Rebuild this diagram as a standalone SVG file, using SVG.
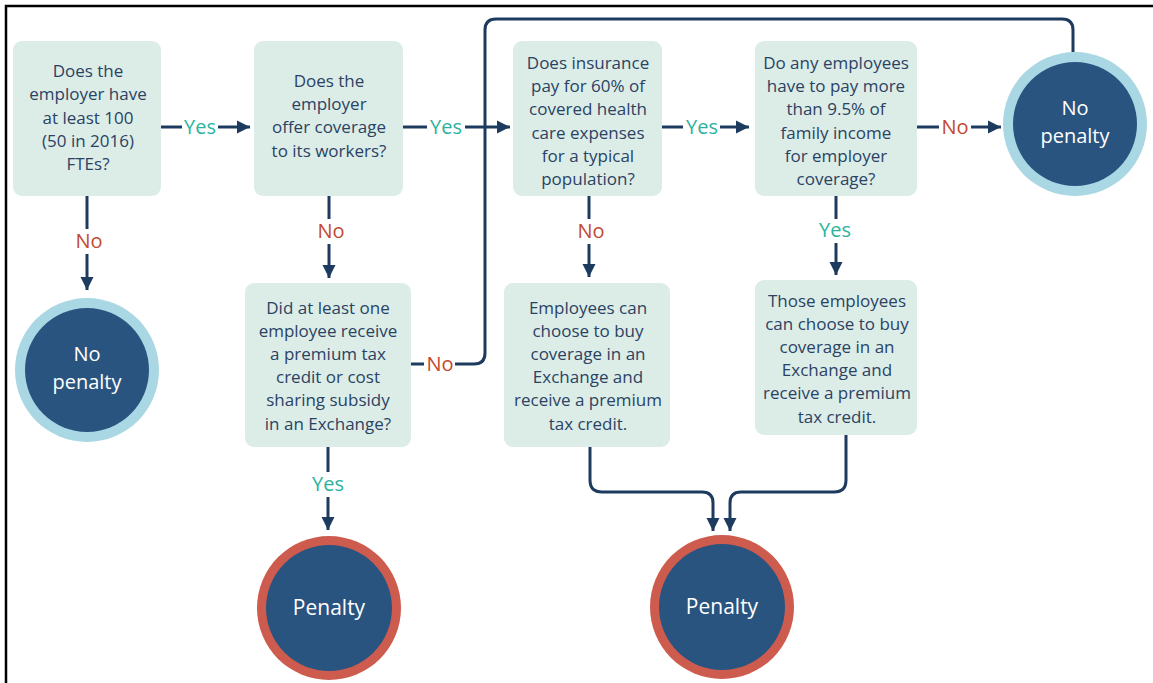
<svg xmlns="http://www.w3.org/2000/svg" width="1153" height="683" viewBox="0 0 1153 683">
<defs>
<style>
.box{fill:#dcede8;}
.bt{font-family:"Open Sans","Liberation Sans",sans-serif;font-size:17px;fill:#2b4263;text-anchor:middle;}
.ln{stroke:#1d3a5f;stroke-width:3;fill:none;}
.yes{font-family:"Open Sans","Liberation Sans",sans-serif;font-size:20px;fill:#2ab3a0;text-anchor:middle;}
.no{font-family:"Open Sans","Liberation Sans",sans-serif;font-size:20px;fill:#c2492f;text-anchor:middle;}
.ct{font-family:"Open Sans","Liberation Sans",sans-serif;font-size:21px;fill:#ffffff;text-anchor:middle;}
.ct2{font-family:"Open Sans","Liberation Sans",sans-serif;font-size:20px;fill:#ffffff;text-anchor:middle;}
.inner{fill:#2a5480;}
.ringnp{fill:#a9d7e3;}
.ringp{fill:#cd5c4e;}
</style>
<marker id="ah" viewBox="0 0 10 10" refX="10" refY="5" markerWidth="4.5" markerHeight="4.6" orient="auto" markerUnits="strokeWidth">
<path d="M0,0 L10,5 L0,10 z" fill="#1d3a5f"/>
</marker>
</defs>
<rect x="0" y="0" width="1153" height="683" fill="#ffffff"/>
<path d="M6,683 L6,6 L1153,6" stroke="#000" stroke-width="2.5" fill="none"/>

<g id="connectors">
<line class="ln" x1="161" y1="127" x2="182" y2="127"/>
<line class="ln" x1="218" y1="127" x2="250" y2="127" marker-end="url(#ah)"/>
<line class="ln" x1="403" y1="127" x2="427" y2="127"/>
<line class="ln" x1="465" y1="127" x2="510" y2="127" marker-end="url(#ah)"/>
<line class="ln" x1="662" y1="127" x2="683" y2="127"/>
<line class="ln" x1="720" y1="127" x2="749" y2="127" marker-end="url(#ah)"/>
<line class="ln" x1="917" y1="127" x2="939" y2="127"/>
<line class="ln" x1="971" y1="127" x2="1001" y2="127" marker-end="url(#ah)"/>
<line class="ln" x1="87" y1="196" x2="87" y2="229"/>
<line class="ln" x1="87" y1="254" x2="87" y2="290" marker-end="url(#ah)"/>
<line class="ln" x1="329" y1="196" x2="329" y2="219"/>
<line class="ln" x1="329" y1="244" x2="329" y2="278" marker-end="url(#ah)"/>
<line class="ln" x1="589" y1="196" x2="589" y2="219"/>
<line class="ln" x1="589" y1="244" x2="589" y2="277" marker-end="url(#ah)"/>
<line class="ln" x1="836" y1="196" x2="836" y2="219"/>
<line class="ln" x1="836" y1="243" x2="836" y2="275" marker-end="url(#ah)"/>
<line class="ln" x1="411" y1="364" x2="424" y2="364"/>
<path class="ln" d="M455,364 L474,364 Q485,364 485,353 L485,30 Q485,19 496,19 L1062,19 Q1073,19 1073,30 L1073,52"/>
<line class="ln" x1="328" y1="447" x2="328" y2="472"/>
<line class="ln" x1="328" y1="497" x2="328" y2="530" marker-end="url(#ah)"/>
<path class="ln" d="M590,447 L590,480 Q590,492 602,492 L702,492 Q713,492 713,503 L713,531" marker-end="url(#ah)"/>
<path class="ln" d="M846,435 L846,480 Q846,492 834,492 L741,492 Q730,492 730,503 L730,531" marker-end="url(#ah)"/>
<text class="yes" x="200" y="134">Yes</text>
<text class="yes" x="446" y="134">Yes</text>
<text class="yes" x="702" y="134">Yes</text>
<text class="no" x="955" y="134">No</text>
<text class="no" x="89" y="248">No</text>
<text class="no" x="331" y="238">No</text>
<text class="no" x="591" y="238">No</text>
<text class="yes" x="835" y="237">Yes</text>
<text class="no" x="440" y="371">No</text>
<text class="yes" x="328" y="491">Yes</text>
</g>

<g id="q1">
<rect class="box" x="13" y="41" width="148" height="155" rx="9"/>
<text class="bt" x="88" y="77">Does the</text>
<text class="bt" x="88" y="100">employer have</text>
<text class="bt" x="88" y="124">at least 100</text>
<text class="bt" x="88" y="147">(50 in 2016)</text>
<text class="bt" x="88" y="170">FTEs?</text>
</g>

<g id="q2">
<rect class="box" x="254" y="41" width="149" height="155" rx="9"/>
<text class="bt" x="329" y="87">Does the</text>
<text class="bt" x="329" y="110">employer</text>
<text class="bt" x="329" y="133">offer coverage</text>
<text class="bt" x="329" y="157">to its workers?</text>
</g>

<g id="q3">
<rect class="box" x="513" y="41" width="149" height="155" rx="9"/>
<text class="bt" x="588" y="69">Does insurance</text>
<text class="bt" x="588" y="92">pay for 60% of</text>
<text class="bt" x="588" y="115">covered health</text>
<text class="bt" x="588" y="139">care expenses</text>
<text class="bt" x="588" y="162">for a typical</text>
<text class="bt" x="588" y="185">population?</text>
</g>

<g id="q4">
<rect class="box" x="755" y="41" width="162" height="155" rx="9"/>
<text class="bt" x="836" y="69">Do any employees</text>
<text class="bt" x="836" y="92">have to pay more</text>
<text class="bt" x="836" y="115">than 9.5% of</text>
<text class="bt" x="836" y="139">family income</text>
<text class="bt" x="836" y="162">for employer</text>
<text class="bt" x="836" y="185">coverage?</text>
</g>

<g id="q5">
<rect class="box" x="245" y="283" width="166" height="164" rx="9"/>
<text class="bt" x="328" y="314">Did at least one</text>
<text class="bt" x="328" y="337">employee receive</text>
<text class="bt" x="328" y="360">a premium tax</text>
<text class="bt" x="328" y="383">credit or cost</text>
<text class="bt" x="328" y="406">sharing subsidy</text>
<text class="bt" x="328" y="430">in an Exchange?</text>
</g>

<g id="r1">
<rect class="box" x="504" y="283" width="166" height="164" rx="9"/>
<text class="bt" x="588" y="314">Employees can</text>
<text class="bt" x="588" y="337">choose to buy</text>
<text class="bt" x="588" y="360">coverage in an</text>
<text class="bt" x="588" y="383">Exchange and</text>
<text class="bt" x="588" y="406">receive a premium</text>
<text class="bt" x="588" y="430">tax credit.</text>
</g>

<g id="r2">
<rect class="box" x="755" y="280" width="162" height="155" rx="9"/>
<text class="bt" x="837" y="307">Those employees</text>
<text class="bt" x="837" y="330">can choose to buy</text>
<text class="bt" x="837" y="353">coverage in an</text>
<text class="bt" x="837" y="376">Exchange and</text>
<text class="bt" x="837" y="399">receive a premium</text>
<text class="bt" x="837" y="423">tax credit.</text>
</g>

<g id="np1">
<circle class="ringnp" cx="87" cy="370" r="72"/>
<circle class="inner" cx="87" cy="370" r="62"/>
<text class="ct2" x="87" y="361">No</text>
<text class="ct2" x="87" y="389">penalty</text>
</g>

<g id="np2">
<circle class="ringnp" cx="1075" cy="124" r="72"/>
<circle class="inner" cx="1075" cy="124" r="62"/>
<text class="ct2" x="1075" y="115">No</text>
<text class="ct2" x="1075" y="143">penalty</text>
</g>

<g id="p1">
<circle class="ringp" cx="329" cy="608" r="72"/>
<circle class="inner" cx="329" cy="608" r="63"/>
<text class="ct" x="329" y="615">Penalty</text>
</g>

<g id="p2">
<circle class="ringp" cx="722" cy="607" r="72"/>
<circle class="inner" cx="722" cy="607" r="63"/>
<text class="ct" x="722" y="614">Penalty</text>
</g>
</svg>
